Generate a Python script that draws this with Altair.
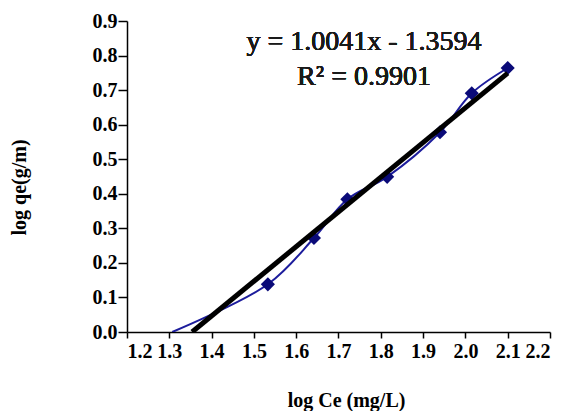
import altair as alt
import pandas as pd

# Freundlich isotherm: log qe vs log Ce
log_ce = [1.533, 1.642, 1.721, 1.815, 1.940, 2.015, 2.100]
log_qe = [0.138, 0.272, 0.384, 0.449, 0.578, 0.691, 0.764]

# smoothed curve begins where it leaves the x axis
curve_start_x = 1.307
curve_start_y = 0.0

slope = 1.0041
intercept = -1.3594
fit_x_end = 2.1

eq_line1 = "y = 1.0041x - 1.3594"
eq_line2 = "R² = 0.9901"

x_ticks = [1.2, 1.3, 1.4, 1.5, 1.6, 1.7, 1.8, 1.9, 2.0, 2.1, 2.2]
y_ticks = [0.0, 0.1, 0.2, 0.3, 0.4, 0.5, 0.6, 0.7, 0.8, 0.9]

points = pd.DataFrame({"x": log_ce, "y": log_qe})
curve = pd.DataFrame({"x": [curve_start_x] + log_ce, "y": [curve_start_y] + log_qe})
fit_x0 = -intercept / slope
fit = pd.DataFrame({"x": [fit_x0, fit_x_end],
                    "y": [slope * fit_x0 + intercept, slope * fit_x_end + intercept]})

FONT = "'Times New Roman', 'Liberation Serif', serif"

axis_style = dict(
    grid=False, domainColor="black", domainWidth=1.5, tickColor="black", tickWidth=1.5,
    labelFont=FONT, labelFontWeight="bold", labelFontSize=20, labelColor="black",
    labelOverlap=False, format=".1f",
    titleFont=FONT, titleFontWeight="bold", titleFontSize=20, titleColor="black",
)

x_axis = alt.Axis(values=x_ticks, title="log Ce (mg/L)", tickSize=6, labelPadding=3,
                  titleX=219, titleY=74, titleBaseline="alphabetic", **axis_style)
y_axis = alt.Axis(values=y_ticks, title="log qe(g/m)", tickSize=9, labelPadding=1,
                  titleX=-108, titleY=166, titleAngle=270,
                  titleAlign="center", titleBaseline="middle", **axis_style)

x_scale = alt.Scale(domain=[1.2, 2.2], nice=False, zero=False)
y_scale = alt.Scale(domain=[0, 0.9], nice=False)

curve_line = alt.Chart(curve).mark_line(
    color="#1c1c9c", strokeWidth=2, interpolate="catmull-rom", clip=True
).encode(x=alt.X("x:Q", scale=x_scale, axis=x_axis),
         y=alt.Y("y:Q", scale=y_scale, axis=y_axis))

markers = alt.Chart(points).mark_point(
    shape="diamond", filled=True, size=200, color="#0a0a78", opacity=1
).encode(x=alt.X("x:Q", scale=x_scale, axis=x_axis),
         y=alt.Y("y:Q", scale=y_scale, axis=y_axis))

fit_line = alt.Chart(fit).mark_line(
    color="black", strokeWidth=5, clip=True
).encode(x=alt.X("x:Q", scale=x_scale, axis=x_axis),
         y=alt.Y("y:Q", scale=y_scale, axis=y_axis))

text1 = alt.Chart(points).mark_text(
    text=eq_line1, font=FONT, fontSize=28, fontWeight="normal", color="#1a1a1a",
    align="center", baseline="alphabetic"
).encode(x=alt.value(237), y=alt.value(29))

text2 = alt.Chart(points).mark_text(
    text=eq_line2, font=FONT, fontSize=28, fontWeight="normal", color="#1a1a1a",
    align="center", baseline="alphabetic"
).encode(x=alt.value(237), y=alt.value(64))

chart = alt.layer(curve_line, markers, fit_line, text1, text2).properties(
    width=423,
    height=311,
    autosize=alt.AutoSizeParams(type="none"),
    padding={"left": 119, "top": 13, "right": 5, "bottom": 80},
).configure_view(
    stroke=None
)

chart.save("out.html", embed_options={"renderer": "svg", "actions": False})
